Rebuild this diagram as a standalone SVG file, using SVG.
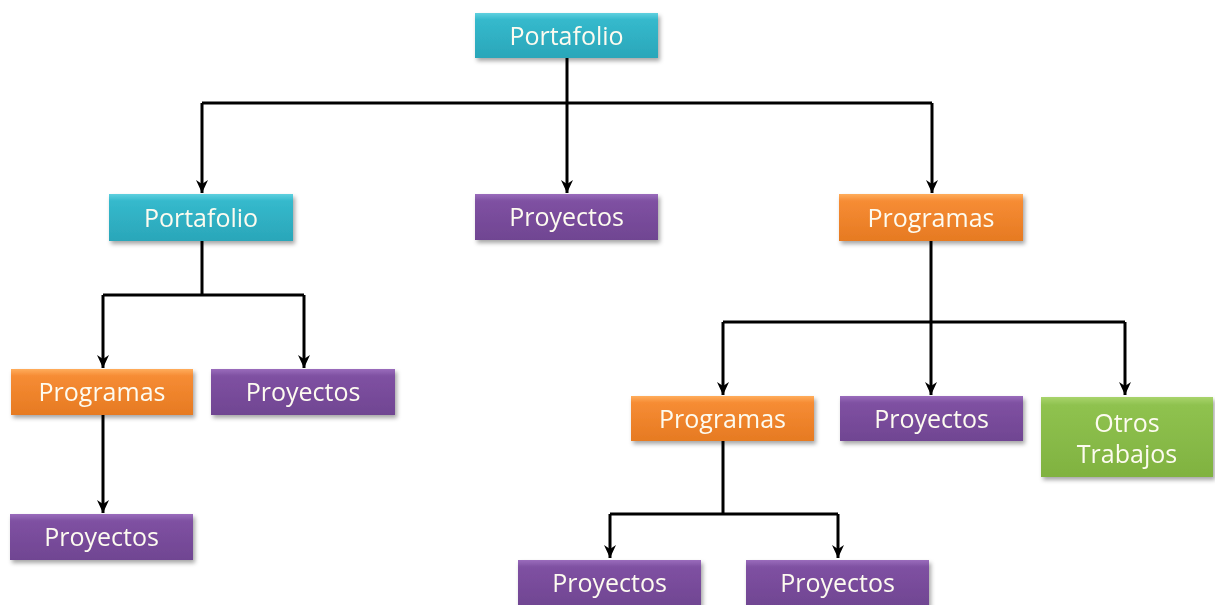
<svg xmlns="http://www.w3.org/2000/svg" width="1215" height="605" viewBox="0 0 1215 605">
<defs>
<linearGradient id="gc" x1="0" y1="0" x2="0" y2="1"><stop offset="0" stop-color="#5fd0df"/><stop offset="0.15" stop-color="#35b9cc"/><stop offset="1" stop-color="#2aa6b9"/></linearGradient>
<linearGradient id="go" x1="0" y1="0" x2="0" y2="1"><stop offset="0" stop-color="#ffad5c"/><stop offset="0.15" stop-color="#f68c34"/><stop offset="1" stop-color="#e67a22"/></linearGradient>
<linearGradient id="gp" x1="0" y1="0" x2="0" y2="1"><stop offset="0" stop-color="#9a6cbc"/><stop offset="0.15" stop-color="#7f51a2"/><stop offset="1" stop-color="#704592"/></linearGradient>
<linearGradient id="gg" x1="0" y1="0" x2="0" y2="1"><stop offset="0" stop-color="#a9d46c"/><stop offset="0.1" stop-color="#8fc24f"/><stop offset="1" stop-color="#80b240"/></linearGradient>
<filter id="sh" x="-10%" y="-20%" width="125%" height="150%"><feDropShadow dx="2" dy="3" stdDeviation="2" flood-color="#000" flood-opacity="0.35"/></filter>
<marker id="ar" viewBox="0 0 14 14" refX="13" refY="7" markerWidth="14" markerHeight="14" markerUnits="userSpaceOnUse" orient="auto"><path d="M0,1 L13,7 L0,13 L4,7 Z" fill="#000"/></marker>
</defs>
<style>
.box{filter:url(#sh)}
.t{font-family:"Open Sans","Noto Sans",sans-serif;font-size:25px;fill:#fdfbf0;text-anchor:middle;dominant-baseline:central}
.c{fill:url(#gc)}.o{fill:url(#go)}.p{fill:url(#gp)}.g{fill:url(#gg)}
.ln{fill:none;stroke:#000;stroke-width:3}
</style>
<g id="connectors">
<path class="ln" d="M567,58 V103"/>
<path class="ln" d="M202,103 H932"/>
<path class="ln" d="M202,103 V193" marker-end="url(#ar)"/>
<path class="ln" d="M567,103 V193" marker-end="url(#ar)"/>
<path class="ln" d="M932,103 V193" marker-end="url(#ar)"/>
<path class="ln" d="M202,241 V295 M103,295 H304"/>
<path class="ln" d="M103,295 V368" marker-end="url(#ar)"/>
<path class="ln" d="M304,295 V368" marker-end="url(#ar)"/>
<path class="ln" d="M103,414 V513" marker-end="url(#ar)"/>
<path class="ln" d="M931,241 V322 M723,322 H1125"/>
<path class="ln" d="M723,322 V395" marker-end="url(#ar)"/>
<path class="ln" d="M931,322 V395" marker-end="url(#ar)"/>
<path class="ln" d="M1125,322 V395" marker-end="url(#ar)"/>
<path class="ln" d="M723,441 V514 M610,514 H838"/>
<path class="ln" d="M610,514 V558" marker-end="url(#ar)"/>
<path class="ln" d="M838,514 V558" marker-end="url(#ar)"/>
</g>
<g id="n1" class="box"><rect class="c" x="475" y="13" width="183" height="45"/><text class="t" x="566.5" y="35">Portafolio</text></g>
<g id="n2" class="box"><rect class="c" x="109" y="194" width="184" height="47"/><text class="t" x="201" y="217">Portafolio</text></g>
<g id="n3" class="box"><rect class="p" x="475" y="194" width="183" height="46"/><text class="t" x="566.5" y="216">Proyectos</text></g>
<g id="n4" class="box"><rect class="o" x="839" y="194" width="184" height="47"/><text class="t" x="931" y="217">Programas</text></g>
<g id="n5" class="box"><rect class="o" x="11" y="369" width="182" height="46"/><text class="t" x="102" y="391">Programas</text></g>
<g id="n6" class="box"><rect class="p" x="211" y="369" width="184" height="46"/><text class="t" x="303" y="391">Proyectos</text></g>
<g id="n7" class="box"><rect class="p" x="10" y="514" width="183" height="46"/><text class="t" x="101.5" y="536">Proyectos</text></g>
<g id="n8" class="box"><rect class="o" x="631" y="396" width="183" height="45"/><text class="t" x="722.5" y="418">Programas</text></g>
<g id="n9" class="box"><rect class="p" x="840" y="396" width="183" height="45"/><text class="t" x="931.5" y="418">Proyectos</text></g>
<g id="n10" class="box"><rect class="g" x="1041" y="397" width="172" height="80"/><text class="t" x="1127" y="422">Otros</text><text class="t" x="1127" y="453">Trabajos</text></g>
<g id="n11" class="box"><rect class="p" x="518" y="560" width="183" height="46"/><text class="t" x="609.5" y="582">Proyectos</text></g>
<g id="n12" class="box"><rect class="p" x="746" y="560" width="183" height="46"/><text class="t" x="837.5" y="582">Proyectos</text></g>
</svg>
